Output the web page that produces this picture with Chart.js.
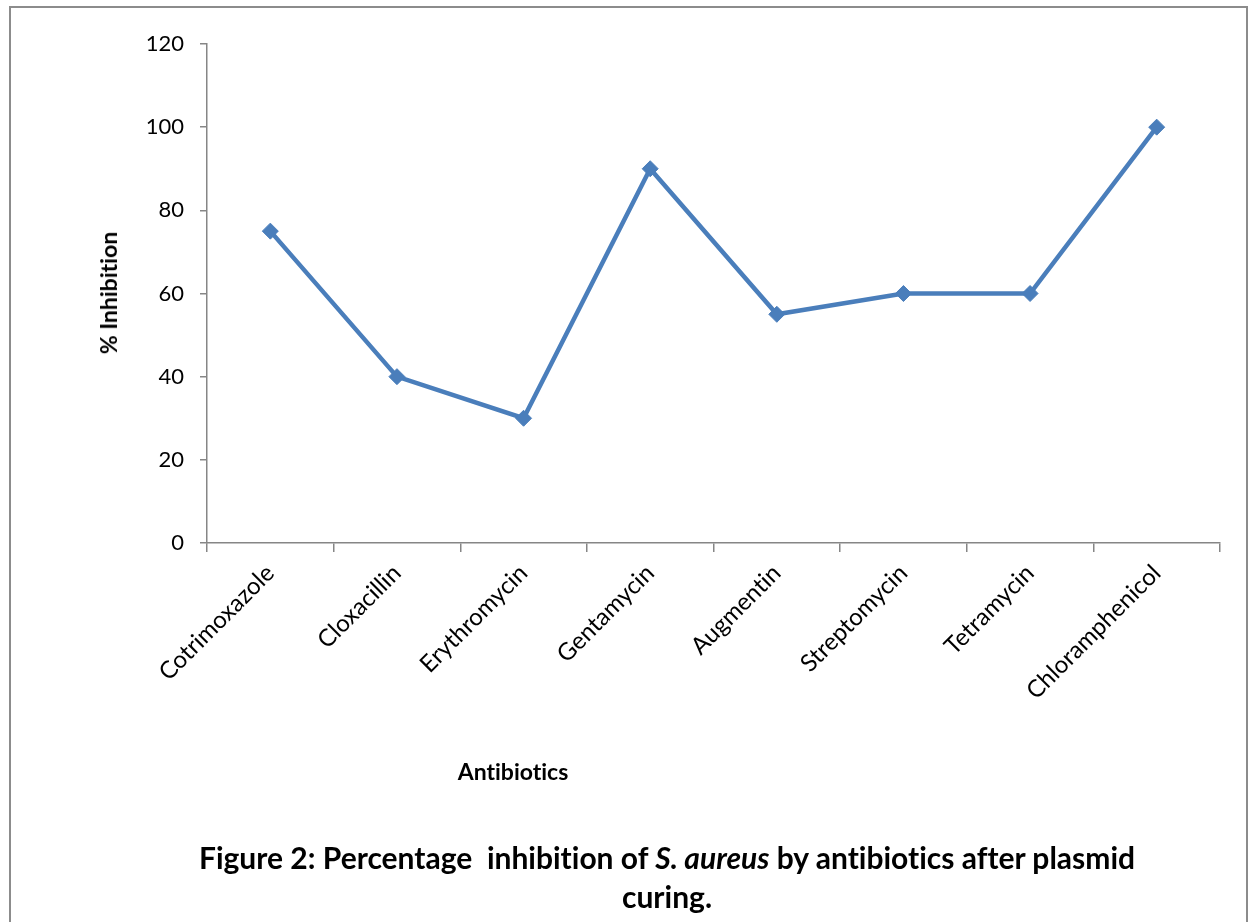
<!DOCTYPE html>
<html>
<head>
<meta charset="utf-8">
<script src="https://cdn.jsdelivr.net/npm/chart.js@4.4.0/dist/chart.umd.min.js"></script>
<style>
  html, body { margin: 0; padding: 0; background: #fff; }
  #wrap { position: relative; width: 1249px; height: 922px; overflow: hidden; font-family: Lato, "Open Sans", sans-serif; font-variant-ligatures: none; }
  #frame { position: absolute; left: 9px; top: 6px; width: 1235px; height: 940px; border: 2px solid #8c8c8c; border-bottom: none; }
  #chart { position: absolute; left: 0; top: 0; }
  .lbl { position: absolute; font-weight: bold; color: #000; white-space: nowrap; }
  #ytitle { left: 108px; top: 293px; font-size: 23px; transform: translate(-50%, -50%) rotate(-90deg); }
  #xtitle { left: 513px; top: 771px; font-size: 23px; transform: translate(-50%, -50%); }
  #caption { left: 0; width: 1334px; top: 838px; font-size: 30px; text-align: center; line-height: 39px; }
</style>
</head>
<body>
<div id="wrap">
  <div id="frame"></div>
  <canvas id="chart" width="1249" height="922"></canvas>
  <div class="lbl" id="ytitle">% Inhibition</div>
  <div class="lbl" id="xtitle">Antibiotics</div>
  <div class="lbl" id="caption">Figure 2: Percentage&nbsp; inhibition of <i>S. aureus</i> by antibiotics after plasmid<br>curing.</div>
</div>
<script>
// chart data
const antibiotics = ['Cotrimoxazole', 'Cloxacillin', 'Erythromycin', 'Gentamycin', 'Augmentin', 'Streptomycin', 'Tetramycin', 'Chloramphenicol'];
const inhibition = [75, 40, 30, 90, 55, 60, 60, 100];
const yTicks = [0, 20, 40, 60, 80, 100, 120];

const axisColor = '#868686';
const lineBlue = '#4a7ebb';

new Chart(document.getElementById('chart'), {
    type: 'line',
    data: {
        labels: antibiotics,
        datasets: [{
            data: inhibition,
            borderColor: lineBlue,
            backgroundColor: lineBlue,
            borderWidth: 4.5,
            pointStyle: 'rectRot',
            pointRadius: 8,
            pointBorderWidth: 1,
            tension: 0
        }]
    },
    options: {
        responsive: false,
        animation: false,
        layout: {
            padding: { top: 44, right: 29, bottom: 0, left: 0 }
        },
        plugins: {
            legend: { display: false },
            tooltip: { enabled: false }
        },
        scales: {
            x: {
                type: 'category',
                offset: true,
                grid: {
                    offset: true,
                    drawOnChartArea: false,
                    color: axisColor,
                    tickLength: 9,
                    lineWidth: 1.5
                },
                border: { color: axisColor, width: 1.5 },
                ticks: {
                    minRotation: 45,
                    maxRotation: 45,
                    padding: 7,
                    color: '#000',
                    font: { family: 'Lato', size: 24 }
                },
                afterFit: (scale) => { scale.height = 922 - 543; }
            },
            y: {
                min: 0,
                max: 120,
                afterBuildTicks: (scale) => { scale.ticks = yTicks.map(v => ({ value: v })); },
                grid: {
                    drawOnChartArea: false,
                    color: axisColor,
                    tickLength: 7,
                    lineWidth: 1.5
                },
                border: { color: axisColor, width: 1.5 },
                ticks: {
                    padding: 16,
                    color: '#000',
                    font: { family: 'Lato', size: 22 }
                },
                afterFit: (scale) => { scale.width = 207; }
            }
        }
    }
});
</script>
</body>
</html>
